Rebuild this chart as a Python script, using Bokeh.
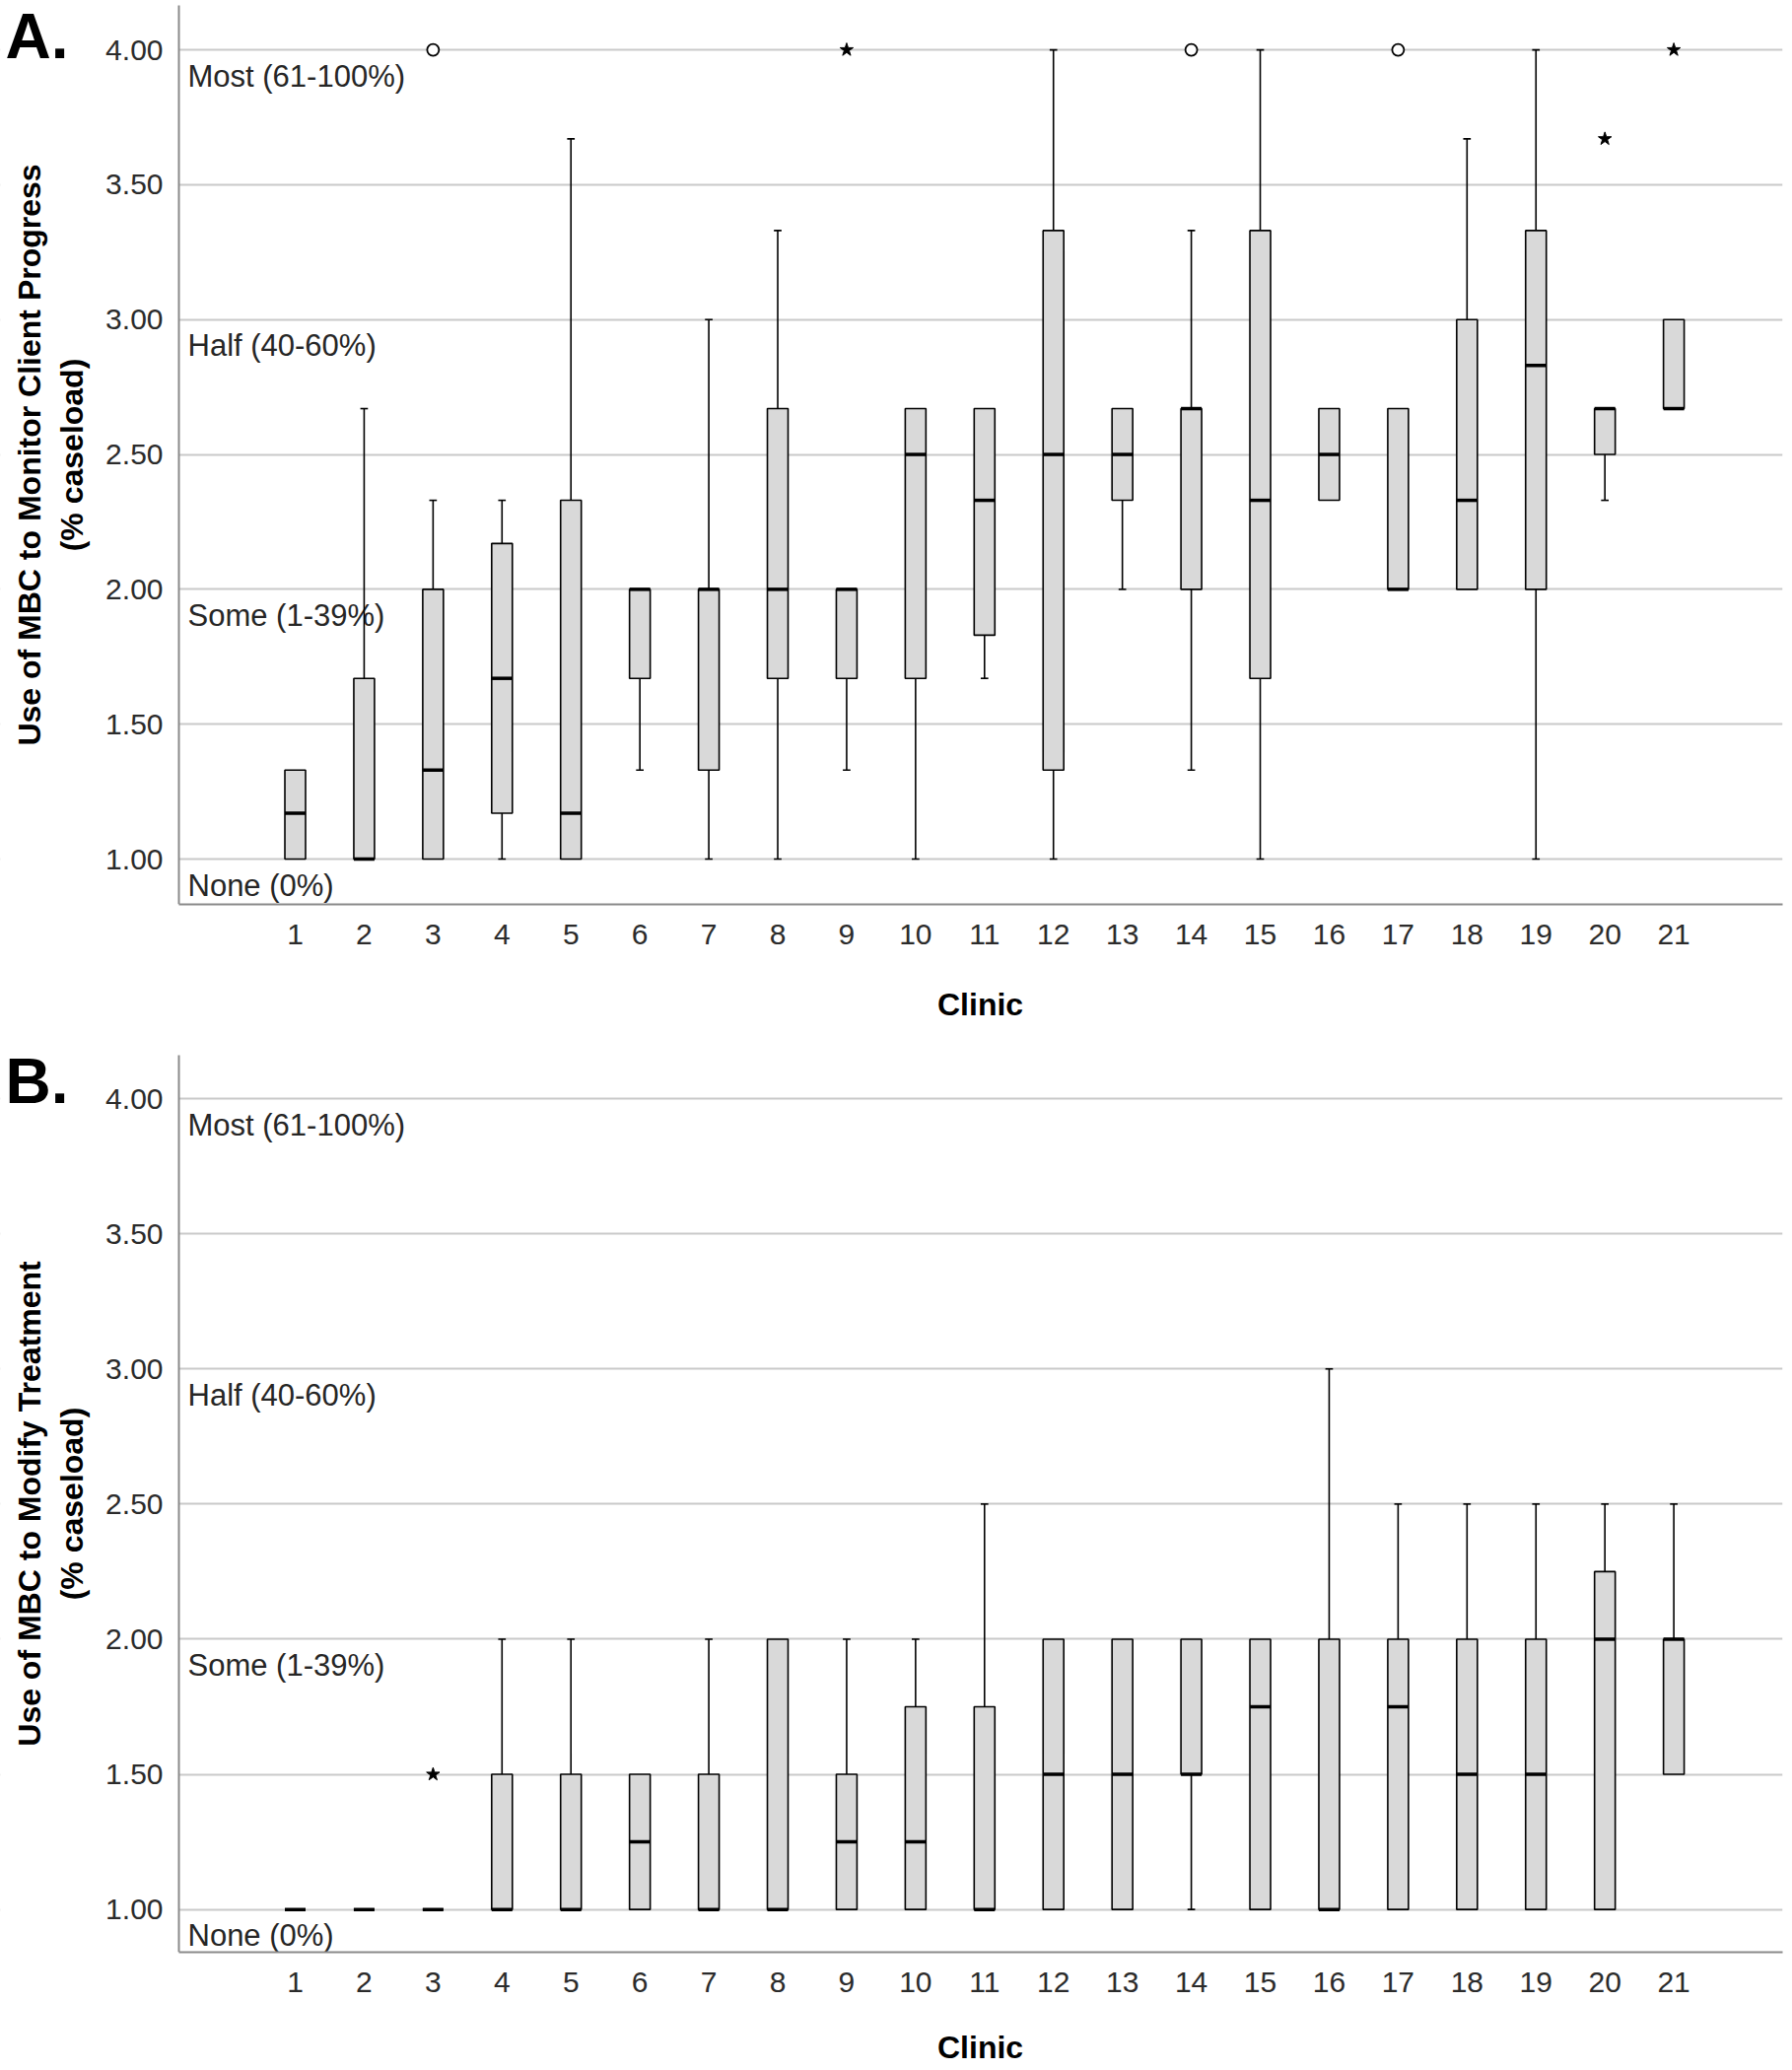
from bokeh.plotting import figure
from bokeh.layouts import column
from bokeh.models import (Range1d, FixedTicker, Label, NumeralTickFormatter,
                          BoxAnnotation, Title)
from bokeh.core.properties import value
from bokeh.embed import file_html
from bokeh.resources import INLINE

# ---------------- data ----------------
clinics = list(range(1, 22))
y_ticks = [1.0, 1.5, 2.0, 2.5, 3.0, 3.5, 4.0]
level_values = [1.0, 2.0, 3.0, 4.0]
level_labels = ["None (0%)", "Some (1-39%)", "Half (40-60%)", "Most (61-100%)"]

# Panel A: Use of MBC to Monitor Client Progress
a_q1 = [1.00, 1.00, 1.00, 1.17, 1.00, 1.67, 1.33, 1.67, 1.67, 1.67, 1.83,
        1.33, 2.33, 2.00, 1.67, 2.33, 2.00, 2.00, 2.00, 2.50, 2.67]
a_med = [1.17, 1.00, 1.33, 1.67, 1.17, 2.00, 2.00, 2.00, 2.00, 2.50, 2.33,
         2.50, 2.50, 2.67, 2.33, 2.50, 2.00, 2.33, 2.83, 2.67, 2.67]
a_q3 = [1.33, 1.67, 2.00, 2.17, 2.33, 2.00, 2.00, 2.67, 2.00, 2.67, 2.67,
        3.33, 2.67, 2.67, 3.33, 2.67, 2.67, 3.00, 3.33, 2.67, 3.00]
a_lo = [1.00, 1.00, 1.00, 1.00, 1.00, 1.33, 1.00, 1.00, 1.33, 1.00, 1.67,
        1.00, 2.00, 1.33, 1.00, 2.33, 2.00, 2.00, 1.00, 2.33, 2.67]
a_hi = [1.33, 2.67, 2.33, 2.33, 3.67, 2.00, 3.00, 3.33, 2.00, 2.67, 2.67,
        4.00, 2.67, 3.33, 4.00, 2.67, 2.67, 3.67, 4.00, 2.67, 3.00]
a_circle_x = [3, 14, 17]
a_circle_y = [4.00, 4.00, 4.00]
a_star_x = [9, 20, 21]
a_star_y = [4.00, 3.67, 4.00]

# Panel B: Use of MBC to Modify Treatment
b_q1 = [1.00, 1.00, 1.00, 1.00, 1.00, 1.00, 1.00, 1.00, 1.00, 1.00, 1.00,
        1.00, 1.00, 1.50, 1.00, 1.00, 1.00, 1.00, 1.00, 1.00, 1.50]
b_med = [1.00, 1.00, 1.00, 1.00, 1.00, 1.25, 1.00, 1.00, 1.25, 1.25, 1.00,
         1.50, 1.50, 1.50, 1.75, 1.00, 1.75, 1.50, 1.50, 2.00, 2.00]
b_q3 = [1.00, 1.00, 1.00, 1.50, 1.50, 1.50, 1.50, 2.00, 1.50, 1.75, 1.75,
        2.00, 2.00, 2.00, 2.00, 2.00, 2.00, 2.00, 2.00, 2.25, 2.00]
b_lo = [1.00, 1.00, 1.00, 1.00, 1.00, 1.00, 1.00, 1.00, 1.00, 1.00, 1.00,
        1.00, 1.00, 1.00, 1.00, 1.00, 1.00, 1.00, 1.00, 1.00, 1.50]
b_hi = [1.00, 1.00, 1.00, 2.00, 2.00, 1.50, 2.00, 2.00, 2.00, 2.00, 2.50,
        2.00, 2.00, 2.00, 2.00, 3.00, 2.50, 2.50, 2.50, 2.50, 2.50]
b_circle_x = []
b_circle_y = []
b_star_x = [3]
b_star_y = [1.50]

FONT = "Liberation Sans"
FIG_W = 1810
AXIS_PX = 181          # page x of the y-axis line
BORDER_R = 2
PX_PER_CLINIC = 69.93
X_AXIS = 1 - 118 / PX_PER_CLINIC                 # data x of the y-axis line
X_START = X_AXIS - AXIS_PX / PX_PER_CLINIC       # frame covers the whole width
X_END = X_START + (FIG_W - BORDER_R) / PX_PER_CLINIC
XLABEL_CENTER_PX = (AXIS_PX + FIG_W - BORDER_R) / 2


def make_panel(letter, ytitle, q1, med, q3, lo, hi, cx, cy, sx, sy,
               height, border_bottom, y_start, y_end, y_axis_top,
               xlabel_gap, xlabel_standoff):
    p = figure(width=FIG_W, height=height,
               x_range=Range1d(X_START, X_END), y_range=Range1d(y_start, y_end),
               output_backend="svg", toolbar_location=None,
               min_border_left=0, min_border_right=BORDER_R,
               min_border_top=0, min_border_bottom=border_bottom)
    p.outline_line_color = None
    p.background_fill_color = "white"
    p.border_fill_color = "white"

    # grid
    p.xgrid.visible = False
    p.ygrid.ticker = FixedTicker(ticks=y_ticks)
    p.ygrid.grid_line_color = "#c9c9c9"
    p.ygrid.grid_line_width = 2
    # blank the area left of the y-axis (grid lines start at the axis)
    p.add_layout(BoxAnnotation(right=X_AXIS, fill_color="white", fill_alpha=1.0,
                               line_color=None, level="underlay"))

    # axes
    for ax in (p.xaxis, p.yaxis):
        ax.axis_line_color = "#8a8a8a"
        ax.axis_line_width = 2
        ax.major_tick_line_color = None
        ax.minor_tick_line_color = None
        ax.major_label_text_font = FONT
        ax.major_label_text_font_size = "30px"
        ax.major_label_text_color = "#2b2b2b"
        ax.axis_label_text_font = FONT
        ax.axis_label_text_font_size = "32px"
        ax.axis_label_text_font_style = "bold"
        ax.axis_label_text_color = "#000000"
    p.xaxis.ticker = FixedTicker(ticks=clinics)
    p.xaxis.bounds = (X_AXIS, X_END)
    p.xaxis.major_label_standoff = 14
    # blank spacer label: only reserves room between tick labels and the title
    p.xaxis.axis_label = " "
    p.xaxis.axis_label_text_font_size = "1px"
    p.xaxis.axis_label_standoff = xlabel_gap
    p.yaxis.fixed_location = X_AXIS
    p.yaxis.bounds = (y_start, y_axis_top)
    p.yaxis.ticker = FixedTicker(ticks=y_ticks)
    p.yaxis.formatter = NumeralTickFormatter(format="0.00")
    p.yaxis.major_label_standoff = 10
    p.yaxis.axis_label = ytitle + "\n(% caseload)"
    p.yaxis.axis_label_standoff = 13

    # x-axis title, centred under the axis line
    p.add_layout(Title(text="Clinic", align="left", offset=XLABEL_CENTER_PX - 44,
                       standoff=xlabel_standoff,
                       text_font=FONT, text_font_size="32px", text_font_style="bold",
                       text_color="black"), "below")

    # level labels under grid lines
    p.text(x=[X_AXIS] * len(level_values), y=level_values, text=level_labels,
           x_offset=9, y_offset=9, text_baseline="top", text_align="left",
           text_font=value(FONT), text_font_size="31px", text_color="#262626")

    # whiskers
    ux = [c for c, h, t in zip(clinics, hi, q3) if h > t]
    uy0 = [t for h, t in zip(hi, q3) if h > t]
    uy1 = [h for h, t in zip(hi, q3) if h > t]
    lx = [c for c, l, b in zip(clinics, lo, q1) if l < b]
    ly0 = [b for l, b in zip(lo, q1) if l < b]
    ly1 = [l for l, b in zip(lo, q1) if l < b]
    p.segment(x0=ux, y0=uy0, x1=ux, y1=uy1, line_color="black", line_width=1.6)
    p.segment(x0=lx, y0=ly0, x1=lx, y1=ly1, line_color="black", line_width=1.6)
    cap = 0.055
    p.segment(x0=[c - cap for c in ux], y0=uy1, x1=[c + cap for c in ux], y1=uy1,
              line_color="black", line_width=1.6)
    p.segment(x0=[c - cap for c in lx], y0=ly1, x1=[c + cap for c in lx], y1=ly1,
              line_color="black", line_width=1.6)

    # boxes
    p.vbar(x=clinics, bottom=q1, top=q3, width=0.3, fill_color="#d9d9d9",
           line_color="black", line_width=1.6)
    # medians
    hw = 0.15
    p.segment(x0=[c - hw for c in clinics], y0=med, x1=[c + hw for c in clinics], y1=med,
              line_color="black", line_width=3.5)

    # outliers
    if cx:
        p.scatter(x=cx, y=cy, marker="circle", size=12, fill_color="white",
                  line_color="black", line_width=1.8)
    if sx:
        p.scatter(x=sx, y=sy, marker="star", size=14, fill_color="black",
                  line_color="black", line_width=1)

    # panel letter (top-left corner)
    p.add_layout(Label(x=X_START + 5 / PX_PER_CLINIC, y=y_end,
                       text=letter, text_align="left", text_baseline="top",
                       text_font=FONT, text_font_size="64px",
                       text_font_style="bold", text_color="black"))
    return p


pa = make_panel("A.", "Use of MBC to Monitor Client Progress",
                a_q1, a_med, a_q3, a_lo, a_hi, a_circle_x, a_circle_y, a_star_x, a_star_y,
                height=1060, border_bottom=143,
                y_start=0.832, y_end=4.183, y_axis_top=4.164,
                xlabel_gap=29, xlabel_standoff=10)
pb = make_panel("B.", "Use of MBC to Modify Treatment",
                b_q1, b_med, b_q3, b_lo, b_hi, b_circle_x, b_circle_y, b_star_x, b_star_y,
                height=1040, border_bottom=120,
                y_start=0.842, y_end=4.197, y_axis_top=4.16,
                xlabel_gap=29, xlabel_standoff=0)

layout = column(pa, pb, spacing=0)
open("out.html", "w").write(file_html(layout, INLINE))
